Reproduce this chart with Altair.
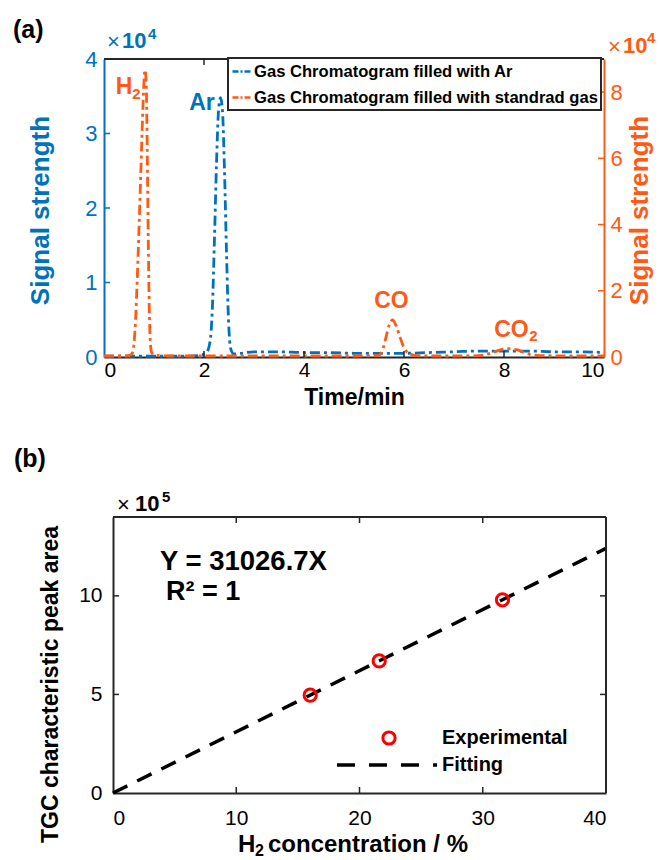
import altair as alt
import pandas as pd

FONT = "Liberation Sans"
BLUE = "#0072BD"
ORANGE = "#FF5A14"
RED = "#FF0000"
DARK = "#262626"

# ---------------- Panel (a): gas chromatograms ----------------
LEG_AR = "Gas Chromatogram filled with Ar"
LEG_STD = "Gas Chromatogram filled with standrad gas"

# Ar-filled chromatogram (left axis, x10^4)
ar_time = [0.0, 0.5, 1.0, 1.5, 1.9, 2.05, 2.12, 2.17, 2.21, 2.25,
           2.29, 2.33, 2.37, 2.41, 2.45, 2.49, 2.53, 2.6, 2.75, 3.0,
           3.5, 4.0, 4.5, 5.0, 5.5, 6.0, 6.5, 7.0, 7.5, 8.0,
           8.5, 9.0, 9.5, 10.0]
ar_signal = [0.01, 0.01, 0.01, 0.01, 0.02, 0.06, 0.2, 0.7, 1.6, 2.6,
             3.3, 3.48, 3.3, 2.5, 1.4, 0.5, 0.12, 0.04, 0.05, 0.07,
             0.07, 0.06, 0.06, 0.05, 0.05, 0.05, 0.06, 0.07, 0.08, 0.08,
             0.08, 0.07, 0.07, 0.06]

# standard-gas chromatogram (right axis, x10^4)
std_time = [0.0, 0.3, 0.5, 0.56, 0.6, 0.64, 0.68, 0.72, 0.76, 0.79,
            0.82, 0.845, 0.865, 0.885, 0.905, 0.925, 0.95, 1.0, 1.1, 1.5,
            2.0, 3.0, 4.0, 5.0, 5.5, 5.58, 5.64, 5.7, 5.77, 5.84,
            5.92, 6.0, 6.1, 6.25, 6.5, 7.0, 7.5, 7.7, 7.85, 8.0,
            8.1, 8.25, 8.4, 8.55, 8.8, 9.5, 10.0]
std_signal = [0.03, 0.03, 0.04, 0.1, 0.4, 1.4, 3.0, 4.8, 6.7, 8.0,
              8.67, 8.2, 6.2, 3.6, 1.5, 0.5, 0.15, 0.06, 0.04, 0.03,
              0.03, 0.03, 0.03, 0.03, 0.05, 0.25, 0.6, 0.95, 1.12, 0.95,
              0.6, 0.28, 0.1, 0.04, 0.03, 0.03, 0.04, 0.1, 0.18, 0.24,
              0.25, 0.22, 0.14, 0.07, 0.04, 0.03, 0.03]

time_ticks = [0, 2, 4, 6, 8, 10]
left_ticks = [0, 1, 2, 3, 4]
right_ticks = [0, 2, 4, 6, 8]

ar_label_text = ["Ar"]
ar_label_t = [1.96]
ar_label_v = [3.41]

std_label_text = ["H", "CO", "CO"]
std_label_t = [0.40, 5.75, 8.15]
std_label_v = [8.16, 1.69, 0.82]
std_sub_text = ["2", "2"]
std_sub_t = [0.65, 8.59]
std_sub_v = [7.95, 0.63]

# ---------------- Panel (b): calibration ----------------
h2_conc = [16.0, 21.6, 31.6]
peak_area = [4.96, 6.70, 9.80]          # x10^5
fit_conc = [0.0, 40.0]
fit_area = [0.0, 12.41]                 # x10^5
conc_ticks = [0, 10, 20, 30, 40]
area_ticks = [0, 5, 10]

W, H = 660, 860
one = pd.DataFrame({"k": [0]})


def txt(text, x, y, size, color="black", weight="bold", align="left", baseline="middle"):
    return alt.Chart(one).mark_text(text=text, font=FONT, fontSize=size, fontWeight=weight,
                                    color=color, align=align, baseline=baseline).encode(
        x=alt.value(x), y=alt.value(y))


def hrule(x1, x2, y, color=DARK, width=2):
    return alt.Chart(one).mark_rule(color=color, strokeWidth=width).encode(
        x=alt.value(x1), x2=alt.value(x2), y=alt.value(y))


def vrule(x, y1, y2, color=DARK, width=2):
    return alt.Chart(one).mark_rule(color=color, strokeWidth=width).encode(
        x=alt.value(x), y=alt.value(y1), y2=alt.value(y2))


# ======================= TOP PANEL (a) =======================
AX0, AX1, AY0, AY1 = 104, 604, 357, 59          # plot-area frame in pixels
xs_a = alt.Scale(domain=[0, 10], range=[AX0, AX1], nice=False, zero=False)
ls_a = alt.Scale(domain=[0, 4], range=[AY0, AY1], nice=False, zero=False)
rs_a = alt.Scale(domain=[0, 9], range=[AY0, AY1], nice=False, zero=False)

x_axis_a = alt.Axis(values=time_ticks, format="d", ticks=False, tickSize=0, labelPadding=2,
                    labelFontSize=21, labelColor="black", domainColor=DARK, domainWidth=2,
                    title="Time/min", titleFontSize=23, titleColor="black",
                    titleX=(AX0 + AX1) / 2, titleY=40, titleAlign="center", titleBaseline="middle",
                    grid=False, orient="bottom", offset=-(H - AY0))
l_axis_a = alt.Axis(values=left_ticks, format="d", ticks=False, tickSize=0, labelPadding=7,
                    labelFontSize=22, labelColor=BLUE, domainColor=BLUE, domainWidth=2,
                    title="Signal strength", titleFontSize=26, titleColor=BLUE,
                    titleAngle=270, titleX=-51, titleY=210, titleAlign="center",
                    titleBaseline="bottom", grid=False, orient="left", offset=-AX0)
r_axis_a = alt.Axis(values=right_ticks, format="d", ticks=False, tickSize=0, labelPadding=6,
                    labelFontSize=22, labelColor=ORANGE, domainColor=ORANGE, domainWidth=2,
                    title="Signal strength", titleFontSize=26, titleColor=ORANGE,
                    titleAngle=270, titleX=48, titleY=210, titleAlign="center",
                    titleBaseline="bottom", grid=False, orient="right", offset=-(W - AX1))

XA = alt.X("t:Q", scale=xs_a, axis=x_axis_a)
XA0 = alt.X("t:Q", scale=xs_a, axis=None)
YL = alt.Y("v:Q", scale=ls_a, axis=l_axis_a)
YL0 = alt.Y("v:Q", scale=ls_a, axis=None)
YR = alt.Y("v:Q", scale=rs_a, axis=r_axis_a)
YR0 = alt.Y("v:Q", scale=rs_a, axis=None)

color = alt.Color("series:N",
                  scale=alt.Scale(domain=[LEG_AR, LEG_STD], range=[BLUE, ORANGE]),
                  legend=alt.Legend(orient="none", legendX=228, legendY=58, title=None,
                                    symbolType="stroke", symbolSize=324, symbolStrokeWidth=2.5,
                                    symbolDash=[6, 2, 2, 2], labelFont=FONT, labelFontSize=16.6,
                                    labelFontWeight="bold", labelColor="black", labelLimit=500,
                                    labelOffset=2, fillColor="white", strokeColor=DARK,
                                    padding=3, rowPadding=6))

ar_df = pd.DataFrame({"t": ar_time, "v": ar_signal, "series": LEG_AR})
std_df = pd.DataFrame({"t": std_time, "v": std_signal, "series": LEG_STD})

blue_line = alt.Chart(ar_df).mark_line(strokeWidth=2.8, strokeDash=[10, 4, 3, 4],
                                       interpolate="monotone").encode(x=XA, y=YL, color=color)
orange_line = alt.Chart(std_df).mark_line(strokeWidth=2.8, strokeDash=[10, 4, 3, 4],
                                          interpolate="monotone").encode(x=XA0, y=YR, color=color)

lt_df = pd.DataFrame({"v": left_ticks[1:-1]})
rt_df = pd.DataFrame({"v": right_ticks[1:]})
xt_df = pd.DataFrame({"t": time_ticks[1:-1]})

left_tick_marks = alt.Chart(lt_df).mark_rule(color=BLUE, strokeWidth=1.5).encode(
    x=alt.value(AX0), x2=alt.value(AX0 + 6), y=YL0)
right_tick_marks = alt.Chart(rt_df).mark_rule(color=ORANGE, strokeWidth=1.5).encode(
    x=alt.value(AX1 - 6), x2=alt.value(AX1), y=YR0)
bottom_tick_marks = alt.Chart(xt_df).mark_rule(color=DARK, strokeWidth=1.5).encode(
    x=XA0, y=alt.value(AY0 - 6), y2=alt.value(AY0))
top_tick_marks = alt.Chart(xt_df).mark_rule(color=DARK, strokeWidth=1.5).encode(
    x=XA0, y=alt.value(AY1), y2=alt.value(AY1 + 6))

ar_lab = alt.Chart(pd.DataFrame({"t": ar_label_t, "v": ar_label_v, "s": ar_label_text})).mark_text(
    font=FONT, fontSize=23, fontWeight="bold", color=BLUE, align="center", baseline="middle"
).encode(x=XA0, y=YL0, text="s:N")
std_lab = alt.Chart(pd.DataFrame({"t": std_label_t, "v": std_label_v, "s": std_label_text})).mark_text(
    font=FONT, fontSize=23, fontWeight="bold", color=ORANGE, align="center", baseline="middle"
).encode(x=XA0, y=YR0, text="s:N")
std_sub = alt.Chart(pd.DataFrame({"t": std_sub_t, "v": std_sub_v, "s": std_sub_text})).mark_text(
    font=FONT, fontSize=15, fontWeight="bold", color=ORANGE, align="center", baseline="middle"
).encode(x=XA0, y=YR0, text="s:N")

panel_a = [
    blue_line, orange_line, left_tick_marks, right_tick_marks, bottom_tick_marks,
    top_tick_marks, hrule(AX0, AX1, AY1), ar_lab, std_lab, std_sub,
    txt("×", 107, 42, 22, BLUE, "normal"), txt("10", 122, 41, 22, BLUE),
    txt("4", 148, 34, 15, BLUE),
    txt("×", 608, 47, 22, ORANGE, "normal"), txt("10", 623, 46, 22, ORANGE),
    txt("4", 647, 38, 15, ORANGE),
    txt("(a)", 13, 30, 25),
]

# ======================= BOTTOM PANEL (b) =======================
BX0, BX1, BY0, BY1 = 113, 606, 793, 517
xs_b = alt.Scale(domain=[0, 40], range=[BX0, BX1], nice=False, zero=False)
ys_b = alt.Scale(domain=[0, 14], range=[BY0, BY1], nice=False, zero=False)
x_axis_b = alt.Axis(values=conc_ticks, format="d", ticks=False, tickSize=0, labelPadding=14,
                    labelFontSize=21, labelColor="black", domainColor=DARK, domainWidth=2,
                    title=None, grid=False, orient="bottom", offset=-(H - BY0))
y_axis_b = alt.Axis(values=area_ticks, format="d", ticks=False, tickSize=0, labelPadding=11,
                    labelFontSize=21, labelColor="black", domainColor=DARK, domainWidth=2,
                    title="TGC characteristic peak area", titleFontSize=23, titleColor="black",
                    titleAngle=270, titleX=-51, titleY=684, titleAlign="center",
                    titleBaseline="bottom", grid=False, orient="left", offset=-BX0)

XB0 = alt.X("c:Q", scale=xs_b, axis=None)
YB0 = alt.Y("a:Q", scale=ys_b, axis=None)

fit = alt.Chart(pd.DataFrame({"c": fit_conc, "a": fit_area})).mark_line(
    color="black", strokeDash=[16, 11], strokeWidth=3.5).encode(
    x=alt.X("c:Q", scale=xs_b, axis=x_axis_b), y=alt.Y("a:Q", scale=ys_b, axis=y_axis_b))
pts = alt.Chart(pd.DataFrame({"c": h2_conc, "a": peak_area})).mark_point(
    shape="circle", filled=False, color=RED, strokeWidth=3, size=150, opacity=1).encode(
    x=XB0, y=YB0)

bx_df = pd.DataFrame({"c": conc_ticks[1:-1]})
by_df = pd.DataFrame({"a": area_ticks[1:]})
b_ticks_bottom = alt.Chart(bx_df).mark_rule(color=DARK, strokeWidth=1.5).encode(
    x=XB0, y=alt.value(BY0 - 6), y2=alt.value(BY0))
b_ticks_top = alt.Chart(bx_df).mark_rule(color=DARK, strokeWidth=1.5).encode(
    x=XB0, y=alt.value(BY1), y2=alt.value(BY1 + 6))
b_ticks_left = alt.Chart(by_df).mark_rule(color=DARK, strokeWidth=1.5).encode(
    y=YB0, x=alt.value(BX0), x2=alt.value(BX0 + 6))
b_ticks_right = alt.Chart(by_df).mark_rule(color=DARK, strokeWidth=1.5).encode(
    y=YB0, x=alt.value(BX1 - 6), x2=alt.value(BX1))

leg_pt = alt.Chart(one).mark_point(shape="circle", filled=False, color=RED, strokeWidth=3,
                                   size=150, opacity=1).encode(x=alt.value(389), y=alt.value(738))
leg_line = alt.Chart(one).mark_rule(color="black", strokeWidth=3.5, strokeDash=[18, 14]).encode(
    x=alt.value(337), x2=alt.value(437), y=alt.value(765))

panel_b = [
    fit, pts, b_ticks_bottom, b_ticks_top, b_ticks_left, b_ticks_right,
    hrule(BX0, BX1, BY1), vrule(BX1, BY1, BY0),
    leg_pt, leg_line,
    txt("Experimental", 442, 738, 20), txt("Fitting", 442, 765, 20),
    txt("Y = 31026.7X", 160, 562, 27.5), txt("R² = 1", 166, 592, 27),
    txt("×", 117, 505, 22, "black", "normal"), txt("10", 135, 504, 22), txt("5", 162, 497, 15),
    txt("(b)", 14, 459, 25),
    txt("H", 238, 845, 24), txt("2", 255, 851, 16), txt("concentration / %", 268, 845, 24),
]

chart = alt.layer(*panel_a, *panel_b).resolve_scale(
    x="independent", y="independent"
).properties(
    width=W, height=H, padding=0, autosize=alt.AutoSizeParams(type="none")
).configure_view(stroke=None).configure_legend(strokeWidth=2)

chart.save("out.html", embed_options={"renderer": "svg", "actions": False})
